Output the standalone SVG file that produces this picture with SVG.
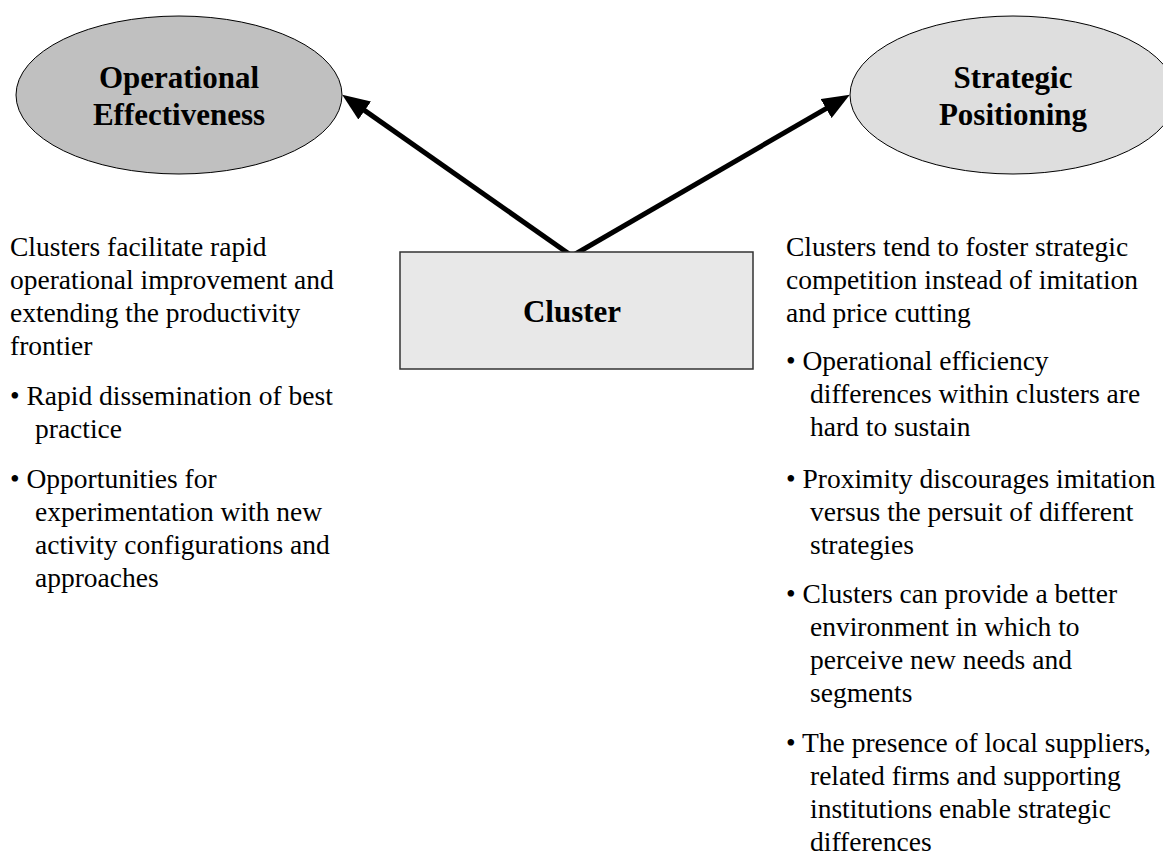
<svg xmlns="http://www.w3.org/2000/svg" width="1163" height="856" viewBox="0 0 1163 856">
<style>
text{font-family:"Liberation Serif","Times New Roman",serif;fill:#000}
.title{font-size:31px;font-weight:bold;text-anchor:middle}
.body{font-size:27.5px}
.conn{stroke:#000;stroke-width:5;fill:none;stroke-linecap:butt}
.ell{stroke:#000;stroke-width:1}
</style>
<defs>
<marker id="ah" viewBox="0 0 10 8" refX="2" refY="4" markerWidth="5.5" markerHeight="4.4" orient="auto" markerUnits="strokeWidth">
<path d="M0,0 L10,4 L0,8 Z" fill="#000"/>
</marker>
</defs>
<rect width="1163" height="856" fill="#fff"/>
<g id="connectors">
<line class="conn" x1="572" y1="256" x2="360.2" y2="107.4" marker-end="url(#ah)"/>
<line class="conn" x1="572" y1="256" x2="830.8" y2="105.8" marker-end="url(#ah)"/>
</g>
<g id="node-operational">
<ellipse class="ell" cx="179" cy="95" rx="163" ry="79" fill="#c0c0c0"/>
<text class="title" x="179" y="88">Operational</text>
<text class="title" x="179" y="125">Effectiveness</text>
</g>
<g id="node-strategic">
<ellipse class="ell" cx="1013" cy="95" rx="163" ry="79" fill="#dedede"/>
<text class="title" x="1013" y="88">Strategic</text>
<text class="title" x="1013" y="125">Positioning</text>
</g>
<g id="node-cluster">
<rect x="400" y="252" width="353" height="117" fill="#e8e8e8" stroke="#333" stroke-width="1.5"/>
<text class="title" x="572" y="322">Cluster</text>
</g>
<g id="text-left" class="body">
<text class="body" x="10" y="256">Clusters facilitate rapid</text>
<text class="body" x="10" y="289">operational improvement and</text>
<text class="body" x="10" y="322">extending the productivity</text>
<text class="body" x="10" y="355">frontier</text>
<text class="body" x="10" y="405">• Rapid dissemination of best</text>
<text class="body" x="35" y="438">practice</text>
<text class="body" x="10" y="488">• Opportunities for</text>
<text class="body" x="35" y="521">experimentation with new</text>
<text class="body" x="35" y="554">activity configurations and</text>
<text class="body" x="35" y="587">approaches</text>
</g>
<g id="text-right">
<text class="body" x="786" y="256">Clusters tend to foster strategic</text>
<text class="body" x="786" y="289">competition instead of imitation</text>
<text class="body" x="786" y="322">and price cutting</text>
<text class="body" x="786" y="370">• Operational efficiency</text>
<text class="body" x="810" y="403">differences within clusters are</text>
<text class="body" x="810" y="436">hard to sustain</text>
<text class="body" x="786" y="488">• Proximity discourages imitation</text>
<text class="body" x="810" y="521">versus the persuit of different</text>
<text class="body" x="810" y="554">strategies</text>
<text class="body" x="786" y="603">• Clusters can provide a better</text>
<text class="body" x="810" y="636">environment in which to</text>
<text class="body" x="810" y="669">perceive new needs and</text>
<text class="body" x="810" y="702">segments</text>
<text class="body" x="786" y="752">• The presence of local suppliers,</text>
<text class="body" x="810" y="785">related firms and supporting</text>
<text class="body" x="810" y="818">institutions enable strategic</text>
<text class="body" x="810" y="851">differences</text>
</g>
</svg>
